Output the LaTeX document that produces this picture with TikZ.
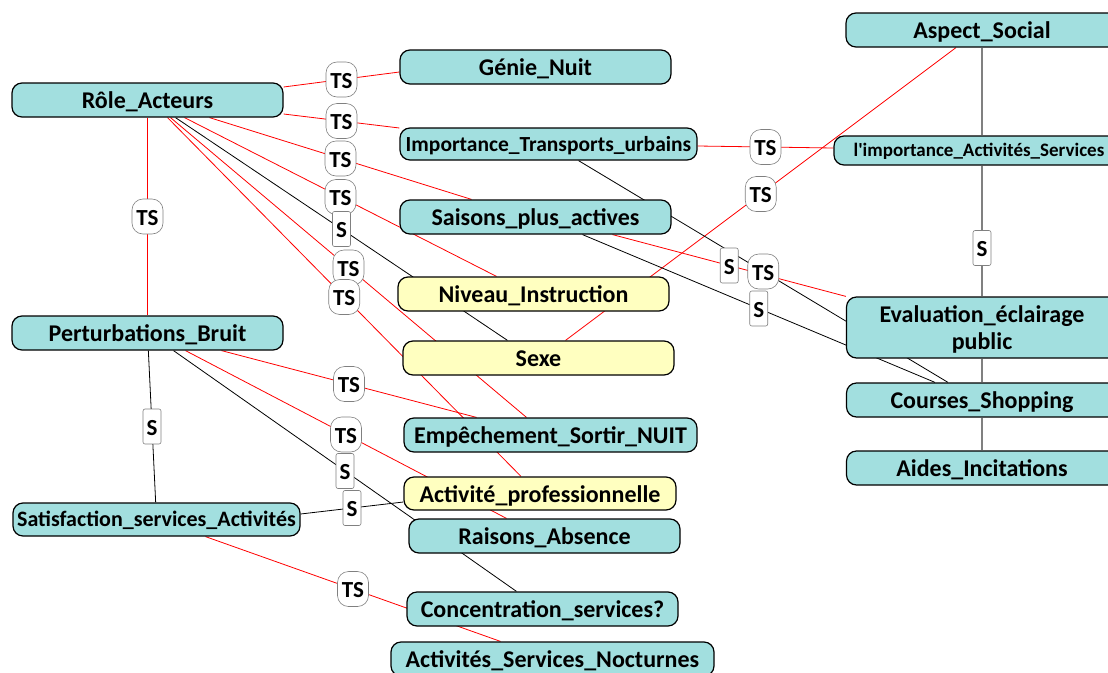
\documentclass[tikz,border=0pt]{standalone}
\usepackage{fontspec}
\newfontfamily\labelfont{Carlito}
\usetikzlibrary{backgrounds}

\definecolor{boxcyan}{RGB}{162,223,223}
\definecolor{boxyellow}{RGB}{255,255,192}
\definecolor{railgray}{RGB}{128,128,128}

\tikzset{
  var/.style={draw=black, line width=1.2pt, fill=boxcyan, rounded corners=10pt,
    minimum width=271pt, minimum height=34pt, inner sep=0pt,
    font=\labelfont\fontsize{24}{27}\bfseries, text height=17pt, text depth=0pt},
  pers/.style={var, fill=boxyellow},
  ts/.style={draw=gray, line width=0.6pt, fill=white, rounded corners=11pt,
    minimum width=31pt, minimum height=35pt, inner sep=0pt,
    font=\labelfont\fontsize{23}{26}\bfseries, text height=17pt, text depth=0pt},
  sl/.style={ts, rounded corners=2pt, minimum width=18pt},
  strong/.style={red, line width=0.8pt},
  weak/.style={black, line width=0.8pt},
  rail/.style={draw=railgray, line width=2pt},
}

\begin{document}
\begin{tikzpicture}[x=1pt, y=-1pt]
\useasboundingbox (0,0) rectangle (1108,672);

% variables, left and centre
\node[var] (role) at (147.5,100) {Rôle\_Acteurs};
\node[var] (pertu) at (147.5,333) {Perturbations\_Bruit};
\node[var, minimum width=287pt, minimum height=33pt,
  font=\labelfont\fontsize{22}{24}\bfseries, text height=14.5pt] (satisf) at (156.5,519.5) {Satisfaction\_services\_Activités};
\node[var] (genie) at (535.5,67) {Génie\_Nuit};
\node[var, minimum width=297pt, minimum height=32pt,
  font=\labelfont\fontsize{21.5}{24}\bfseries, text height=14pt] (transp) at (548.5,144) {Importance\_Transports\_urbains};
\node[var] (saisons) at (535.5,217) {Saisons\_plus\_actives};
\node[pers] (niveau) at (533.5,294) {Niveau\_Instruction};
\node[pers] (sexe) at (538.5,358) {Sexe};
\node[var, minimum width=293pt] (empech) at (550.5,435) {Empêchement\_Sortir\_NUIT};
\node[pers, minimum width=272pt, minimum height=33pt] (activ) at (540,493.5) {Activité\_professionnelle};
\node[var] (raisons) at (544.5,536) {Raisons\_Absence};
\node[var] (concent) at (542.5,609) {Concentration\_services?};
\node[var, minimum width=323pt] (noct) at (552.5,659) {Activités\_Services\_Nocturnes};

% variables, right column
\node[var, minimum width=272pt] (aspect) at (982,30) {Aspect\_Social};
\node[var, minimum width=290pt, minimum height=29pt,
  font=\labelfont\fontsize{19}{22}\bfseries, text height=12.5pt] (limport) at (979,150.5) {l'importance\_Activités\_Services};
\node[var, minimum height=61pt, align=center, text height=44.5pt] (eval) at (982,327.5) {Evaluation\_éclairage\\public};
\node[var] (courses) at (982,400) {Courses\_Shopping};
\node[var] (aides) at (982,468) {Aides\_Incitations};

\begin{scope}[on background layer]
% from Role_Acteurs
\draw[strong] ([yshift=13pt]role.east) -- coordinate[midway] (rg) ([yshift=-5pt]genie.west);
\draw[strong] ([yshift=-14pt]role.east) -- coordinate[midway] (rt) ([yshift=16pt]transp.west);
\draw[strong] ([xshift=62pt]role.south) -- coordinate[midway] (rs) ([xshift=-64pt]saisons.north);
\draw[strong] ([xshift=37pt]role.south) -- coordinate[midway] (rn) ([xshift=-37pt]niveau.north);
\draw[weak] ([xshift=28pt]role.south) -- coordinate[midway] (rx) ([xshift=-31pt]sexe.north);
\draw[strong] ([xshift=23pt]role.south) -- coordinate[midway] (re) ([xshift=-24pt]empech.north);
\draw[strong] ([xshift=20pt]role.south) -- coordinate[midway] (ra) ([xshift=-19pt]activ.north);
\draw[strong] (role) -- coordinate[midway] (rp) (pertu);

% from Sexe
\draw[strong] ([xshift=27pt]sexe.north) -- coordinate[midway] (xa) ([xshift=-26pt]aspect.south);

% from Perturbations_Bruit
\draw[strong] ([xshift=74pt]pertu.south) -- coordinate[midway] (pe) ([xshift=-74pt]empech.north);
\draw[strong] ([xshift=38pt]pertu.south) -- coordinate[midway] (pr) ([xshift=-38pt]raisons.north);
\draw[weak] ([xshift=26pt]pertu.south) -- coordinate[midway] (pc) ([xshift=-26pt]concent.north);
\draw[weak] (pertu) -- coordinate[midway] (ps) (satisf);

% from Satisfaction_services_Activites
\draw[weak] ([yshift=5.5pt]satisf.east) -- coordinate[midway] (sa) ([yshift=-8.5pt]activ.west);
\draw[strong] ([xshift=49pt]satisf.south) -- coordinate[midway] (sn) ([xshift=-52pt]noct.north);

% transports and saisons towards the right
\draw[strong] ([yshift=-2pt]transp.east) -- coordinate[midway] (tl) ([yshift=2.5pt]limport.west);
\draw[weak] ([xshift=30pt]transp.south) -- coordinate[midway] (tc) ([xshift=-34pt]courses.north);
\draw[strong] ([xshift=77pt]saisons.south) -- coordinate[midway] (se) (eval.north west);
\draw[weak] ([xshift=47pt]saisons.south) -- coordinate[midway] (sc) ([xshift=-47pt]courses.north);

% right column
\draw[rail] (aspect.south) -- (aspect.south |- limport.north);
\draw[rail] (limport.south -| eval.north) -- coordinate[pos=.63] (le) (eval.north);
\draw[rail] (eval) -- (courses);
\draw[rail] (courses) -- (aides);
\end{scope}

% labels
\node[ts] at (rg) {TS};
\node[ts] at (rt) {TS};
\node[ts] at (rs) {TS};
\node[ts] at (rn) {TS};
\node[sl] at (rx) {S};
\node[ts] at (re) {TS};
\node[ts] at (ra) {TS};
\node[ts] at (rp) {TS};
\node[ts] at (xa) {TS};
\node[ts] at (pe) {TS};
\node[ts] at (pr) {TS};
\node[sl] at (pc) {S};
\node[sl] at (ps) {S};
\node[sl] at (sa) {S};
\node[ts] at (sn) {TS};
\node[ts] at (tl) {TS};
\node[sl] at (se) {S};
\node[ts] at (tc) {TS};
\node[sl] at (sc) {S};
\node[sl] at (le) {S};
\end{tikzpicture}
\end{document}
